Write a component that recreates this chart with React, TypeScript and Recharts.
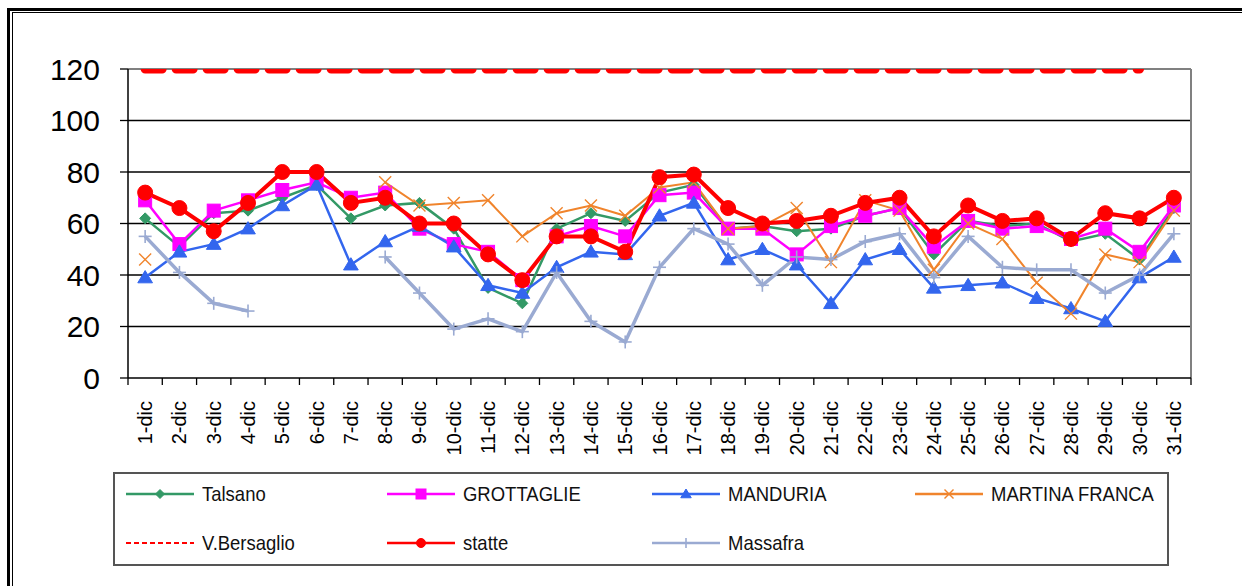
import React from 'react';
import { LineChart, Line, XAxis, YAxis, CartesianGrid, Legend, ReferenceLine } from 'recharts';

const categories = [
  '1-dic', '2-dic', '3-dic', '4-dic', '5-dic', '6-dic', '7-dic', '8-dic', '9-dic', '10-dic',
  '11-dic', '12-dic', '13-dic', '14-dic', '15-dic', '16-dic', '17-dic', '18-dic', '19-dic', '20-dic',
  '21-dic', '22-dic', '23-dic', '24-dic', '25-dic', '26-dic', '27-dic', '28-dic', '29-dic', '30-dic', '31-dic',
];

const talsano = [62, 51, 64, 65, 70, 75, 62, 67, 68, 58, 35, 29, 58, 64, 61, 72, 75, 58, 59, 57, 58, 63, 66, 48, 61, 59, 60, 53, 56, 46, 66];
const grottaglie = [69, 52, 65, 69, 73, 76, 70, 72, 58, 52, 49, 38, 55, 59, 55, 71, 72, 58, 58, 48, 59, 63, 66, 51, 61, 58, 59, 54, 58, 49, 67];
const manduria = [39, 49, 52, 58, 67, 75, 44, 53, 59, 51, 36, 33, 43, 49, 48, 63, 68, 46, 50, 44, 29, 46, 50, 35, 36, 37, 31, 27, 22, 39, 47];
const martina = [46, null, null, null, null, null, null, 76, 67, 68, 69, 55, 64, 67, 63, 74, 76, 58, 59, 66, 45, 69, 65, 42, 60, 54, 37, 25, 48, 45, 65];
const bersaglio = [120, 120, 120, 120, 120, 120, 120, 120, 120, 120, 120, 120, 120, 120, 120, 120, 120, 120, 120, 120, 120, 120, 120, 120, 120, 120, 120, 120, 120, 120, null];
const statte = [72, 66, 57, 68, 80, 80, 68, 70, 60, 60, 48, 38, 55, 55, 49, 78, 79, 66, 60, 61, 63, 68, 70, 55, 67, 61, 62, 54, 64, 62, 70];
const massafra = [55, 41, 29, 26, null, null, null, 47, 33, 19, 23, 18, 41, 22, 14, 43, 58, 52, 36, 47, 46, 53, 56, 39, 55, 43, 42, 42, 33, 40, 56];

const yTicks = [0, 20, 40, 60, 80, 100, 120];
const gridValues = [20, 40, 60, 80, 100];

const data = categories.map((c, i) => ({
  day: i + 1,
  label: c,
  Talsano: talsano[i],
  GROTTAGLIE: grottaglie[i],
  MANDURIA: manduria[i],
  'MARTINA FRANCA': martina[i],
  'V.Bersaglio': bersaglio[i],
  statte: statte[i],
  Massafra: massafra[i],
}));

const boundaryTicks = [0.5, ...categories.map((_, i) => i + 1.5)];

const C_GREEN = '#339966';
const C_MAG = '#ff00ff';
const C_BLUE = '#3366ee';
const C_ORANGE = '#f0842c';
const C_RED = '#ff0000';
const C_GREY = '#9aaad2';

type Kind = 'diamond' | 'square' | 'triangle' | 'x' | 'circle' | 'plus' | 'none';

function marker(kind: Kind, color: string, cx: number, cy: number, s: number, key?: string) {
  switch (kind) {
    case 'diamond':
      return <path key={key} d={`M${cx},${cy - s} L${cx + s},${cy} L${cx},${cy + s} L${cx - s},${cy} Z`} fill={color} stroke={color} strokeWidth={1} />;
    case 'square':
      return <rect key={key} x={cx - s} y={cy - s} width={2 * s} height={2 * s} fill={color} stroke={color} strokeWidth={1} />;
    case 'triangle':
      return <path key={key} d={`M${cx},${cy - s} L${cx + s * 1.05},${cy + s * 0.75} L${cx - s * 1.05},${cy + s * 0.75} Z`} fill={color} stroke={color} strokeWidth={1} />;
    case 'x':
      return (
        <g key={key} stroke={color} strokeWidth={1.4}>
          <line x1={cx - s} y1={cy - s} x2={cx + s} y2={cy + s} />
          <line x1={cx - s} y1={cy + s} x2={cx + s} y2={cy - s} />
        </g>
      );
    case 'circle':
      return <circle key={key} cx={cx} cy={cy} r={s} fill={color} stroke={color} strokeWidth={1} />;
    case 'plus':
      return (
        <g key={key} stroke={color} strokeWidth={1.6}>
          <line x1={cx - s} y1={cy} x2={cx + s} y2={cy} />
          <line x1={cx} y1={cy - s} x2={cx} y2={cy + s} />
        </g>
      );
    default:
      return <g key={key} />;
  }
}

const makeDot = (kind: Kind, color: string, s: number) => (p: any) => {
  const { cx, cy, index } = p;
  if (cx == null || cy == null || Number.isNaN(cx) || Number.isNaN(cy) || p.value == null) {
    return <g key={`e-${index}`} />;
  }
  return marker(kind, color, cx, cy, s, `m-${index}`);
};

const series = [
  { key: 'Talsano', color: C_GREEN, width: 2.5, kind: 'diamond' as Kind, size: 5.5, legendSize: 4.5 },
  { key: 'GROTTAGLIE', color: C_MAG, width: 2.5, kind: 'square' as Kind, size: 6.5, legendSize: 5 },
  { key: 'MANDURIA', color: C_BLUE, width: 2.5, kind: 'triangle' as Kind, size: 7, legendSize: 5 },
  { key: 'MARTINA FRANCA', color: C_ORANGE, width: 2, kind: 'x' as Kind, size: 6, legendSize: 4.5 },
  { key: 'V.Bersaglio', color: C_RED, width: 9, kind: 'none' as Kind, size: 0, legendSize: 0, dash: '17 14' },
  { key: 'statte', color: C_RED, width: 4, kind: 'circle' as Kind, size: 7.5, legendSize: 4.5 },
  { key: 'Massafra', color: C_GREY, width: 3.5, kind: 'plus' as Kind, size: 6.5, legendSize: 5 },
];

const FONT = '"Liberation Sans", Arial, sans-serif';

// Tick at each category boundary; the category label is centred in the band to its right.
const BoundaryTick = (props: any) => {
  const { x, y, payload, width } = props;
  const idx = Math.round(payload.value - 0.5);
  const label = categories[idx];
  if (!label) return <g />;
  const band = (Number(width) || 1063) / categories.length;
  const cx = x + band / 2;
  return (
    <text
      transform={`translate(${cx},${y}) rotate(-90)`}
      textAnchor="end"
      dominantBaseline="central"
      fontSize={20}
      fontFamily={FONT}
      fill="#000"
    >
      {label}
    </text>
  );
};

const legendCols = [13, 274, 539, 802];
const legendRows = [22, 71];

const LegendBox = () => (
  <div
    style={{
      position: 'relative',
      boxSizing: 'border-box',
      width: 1056,
      height: 94,
      border: '2px solid #555',
      background: '#fff',
    }}
  >
    {series.map((s, i) => {
      const col = legendCols[i % 4];
      const row = legendRows[Math.floor(i / 4)];
      return (
        <div
          key={s.key}
          style={{ position: 'absolute', left: col - 2, top: row - 2 - 12, height: 24, display: 'flex', alignItems: 'center', whiteSpace: 'nowrap' }}
        >
          <svg width={70} height={24} style={{ display: 'block' }}>
            <line
              x1={0}
              y1={12}
              x2={68}
              y2={12}
              stroke={s.color}
              strokeWidth={s.kind === 'none' ? 2 : 2.5}
              strokeDasharray={s.kind === 'none' ? '5 3' : undefined}
            />
            {s.kind !== 'none' && marker(s.kind, s.color, 34, 12, s.legendSize)}
          </svg>
          <span
            style={{
              display: 'inline-block',
              marginLeft: 6,
              fontSize: 21,
              fontFamily: FONT,
              color: '#111',
              transform: 'scaleX(0.88)',
              transformOrigin: 'left center',
            }}
          >
            {s.key}
          </span>
        </div>
      );
    })}
  </div>
);

export default function App() {
  return (
    <div style={{ position: 'relative', width: 1242, height: 586, background: '#fff', overflow: 'hidden' }}>
      <style>{'body{margin:0;}'}</style>
      {/* outer frame */}
      <div style={{ position: 'absolute', left: 7, top: 8, width: 3, height: 578, background: '#000' }} />
      <div style={{ position: 'absolute', left: 12, top: 12, width: 1, height: 574, background: '#000' }} />
      <div style={{ position: 'absolute', left: 7, top: 8, width: 1235, height: 3, background: '#000' }} />
      <div style={{ position: 'absolute', left: 12, top: 12, width: 1230, height: 1, background: '#000' }} />
      <div style={{ position: 'absolute', left: 0, top: 0 }}>
        <LineChart
          width={1242}
          height={586}
          data={data}
          margin={{ top: 69, right: 51, bottom: 207, left: 48 }}
        >
          <CartesianGrid horizontal vertical={false} horizontalValues={gridValues} stroke="#000" strokeWidth={1.3} />
          <XAxis
            type="number"
            dataKey="day"
            domain={[0.5, 31.5]}
            ticks={boundaryTicks}
            interval={0}
            tick={<BoundaryTick />}
            tickSize={7}
            tickMargin={16}
            tickLine={{ stroke: '#000', strokeWidth: 1.3 }}
            axisLine={{ stroke: '#000', strokeWidth: 1.5 }}
            height={1}
            allowDataOverflow
          />
          <YAxis
            type="number"
            domain={[0, 120]}
            ticks={yTicks}
            interval={0}
            width={80}
            tickSize={8}
            tickMargin={20}
            tick={{ fontSize: 30, fontFamily: FONT, fill: '#000' }}
            tickLine={{ stroke: '#000', strokeWidth: 1.3 }}
            axisLine={{ stroke: '#000', strokeWidth: 1.5 }}
            allowDataOverflow
          />
          <ReferenceLine y={120} stroke="#808080" strokeWidth={2} />
          <ReferenceLine x={31.5} stroke="#808080" strokeWidth={2} />
          {series.map((s) => (
            <Line
              key={s.key}
              type="linear"
              dataKey={s.key}
              name={s.key}
              stroke={s.color}
              strokeWidth={s.width}
              strokeDasharray={(s as any).dash}
              strokeLinecap={(s as any).dash ? 'round' : undefined}
              dot={s.kind === 'none' ? false : makeDot(s.kind, s.color, s.size)}
              activeDot={false}
              connectNulls={false}
              isAnimationActive={false}
            />
          ))}
          <Legend
            layout="horizontal"
            verticalAlign="middle"
            align="center"
            wrapperStyle={{ position: 'absolute', left: 113, top: 472, width: 1056, height: 94 }}
            content={() => <LegendBox />}
          />
        </LineChart>
      </div>
    </div>
  );
}
